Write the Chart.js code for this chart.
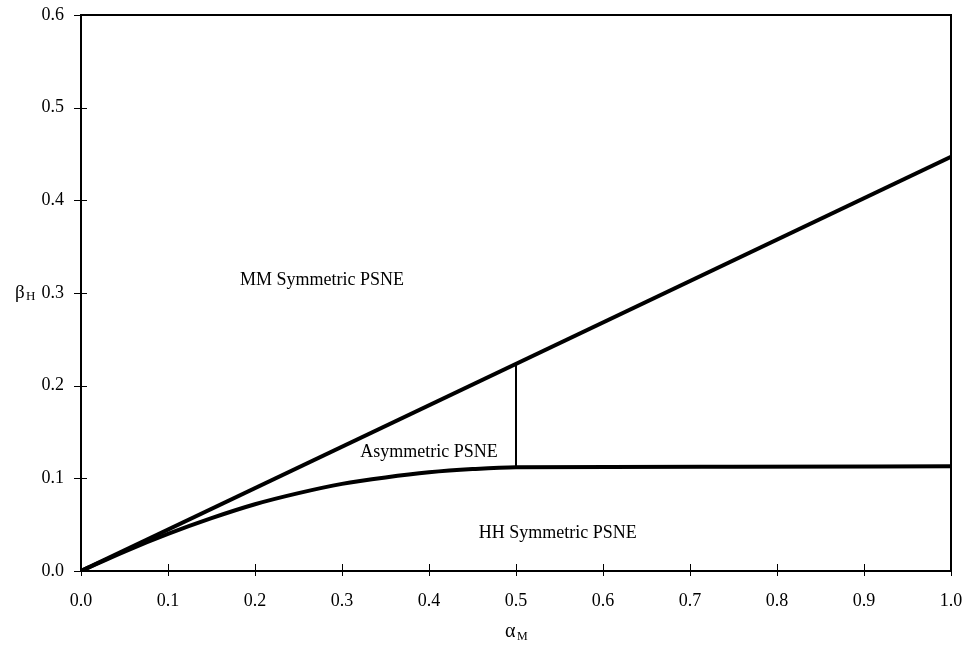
<!DOCTYPE html>
<html>
<head>
<meta charset="utf-8">
<script src="https://cdn.jsdelivr.net/npm/chart.js@4"></script>
<style>
  html, body { margin: 0; padding: 0; background: #fff; }
  #wrap { width: 968px; height: 650px; }
</style>
</head>
<body>
<div id="wrap"><canvas id="chart" width="968" height="650"></canvas></div>
<script>
// data
var xTicks = [0, 0.1, 0.2, 0.3, 0.4, 0.5, 0.6, 0.7, 0.8, 0.9, 1.0];
var yTicks = [0, 0.1, 0.2, 0.3, 0.4, 0.5, 0.6];

// upper boundary (straight line)
var upperAlpha = [0, 1.0];
var upperBeta  = [0, 0.447];

// lower boundary (curve, then flat)
var lowerAlpha = [0, 0.05, 0.1, 0.15, 0.2, 0.25, 0.3, 0.35, 0.4, 0.45, 0.5, 0.75, 1.0];
var lowerBeta  = [0, 0.021, 0.040, 0.057, 0.072, 0.084, 0.094, 0.101, 0.1065, 0.110, 0.112, 0.1125, 0.113];

// vertical split at alpha = 0.5
var splitAlpha = [0.5, 0.5];
var splitBeta  = [0.112, 0.2235];

var regionNames = ['MM Symmetric PSNE', 'Asymmetric PSNE', 'HH Symmetric PSNE'];
var regionAlpha = [0.277, 0.40, 0.548];
var regionBeta  = [0.314, 0.128, 0.041];

var FONT = '"Liberation Serif", "Times New Roman", serif';

function pts(xs, ys) {
  return xs.map(function(x, i) { return { x: x, y: ys[i] }; });
}

// frame, tick marks crossing the axes, region labels, axis titles
var decor = {
  id: 'decor',
  afterDraw: function(chart) {
    var ctx = chart.ctx, a = chart.chartArea;
    var sx = chart.scales.x, sy = chart.scales.y;
    ctx.save();
    ctx.strokeStyle = '#000';
    ctx.lineWidth = 2;
    ctx.strokeRect(a.left, a.top, a.right - a.left, a.bottom - a.top);

    ctx.lineWidth = 1;
    ctx.beginPath();
    xTicks.forEach(function(v) {
      var px = Math.round(sx.getPixelForValue(v)) + 0.5;
      ctx.moveTo(px, a.bottom - 7);
      ctx.lineTo(px, a.bottom + 5);
    });
    yTicks.forEach(function(v) {
      var py = Math.round(sy.getPixelForValue(v)) + 0.5;
      ctx.moveTo(a.left - 7, py);
      ctx.lineTo(a.left + 6, py);
    });
    ctx.stroke();

    ctx.fillStyle = '#000';
    ctx.font = '18px ' + FONT;
    ctx.textAlign = 'center';
    ctx.textBaseline = 'middle';
    regionNames.forEach(function(t, i) {
      ctx.fillText(t, sx.getPixelForValue(regionAlpha[i]), sy.getPixelForValue(regionBeta[i]));
    });

    // beta_H next to 0.3
    var yMid = sy.getPixelForValue(0.3);
    ctx.textAlign = 'left';
    ctx.font = '19px ' + FONT;
    ctx.fillText('\u03B2', 15, yMid);
    ctx.font = '13px ' + FONT;
    ctx.fillText('H', 26, yMid + 4);

    // alpha_M under axis
    var xMid = sx.getPixelForValue(0.5) - 11;
    ctx.font = '20px ' + FONT;
    ctx.fillText('\u03B1', xMid, 632);
    ctx.font = '12px ' + FONT;
    ctx.fillText('M', xMid + 12, 637);
    ctx.restore();
  }
};

var lineStyle = { borderColor: '#000', pointRadius: 0, fill: false };

new Chart(document.getElementById('chart'), {
  type: 'scatter',
  data: {
    datasets: [
      Object.assign({ data: pts(upperAlpha, upperBeta), showLine: true, borderWidth: 4, tension: 0 }, lineStyle),
      Object.assign({ data: pts(lowerAlpha, lowerBeta), showLine: true, borderWidth: 4, cubicInterpolationMode: 'monotone' }, lineStyle),
      Object.assign({ data: pts(splitAlpha, splitBeta), showLine: true, borderWidth: 2, tension: 0 }, lineStyle),
    ],
  },
  options: {
    responsive: false,
    animation: false,
    layout: { padding: { top: 15, right: 17, left: 0, bottom: 0 } },
    plugins: { legend: { display: false }, tooltip: { enabled: false } },
    scales: {
      x: {
        type: 'linear', min: 0, max: 1.0,
        afterBuildTicks: function(s) { s.ticks = xTicks.map(function(v) { return { value: v }; }); },
        afterFit: function(s) { s.height = 79; s.paddingLeft = 0; s.paddingRight = 0; },
        grid: { display: false, drawTicks: false },
        border: { display: false },
        ticks: {
          padding: 19, color: '#000', font: { family: FONT, size: 18 }, maxRotation: 0,
          callback: function(v) { return v.toFixed(1); },
        },
      },
      y: {
        type: 'linear', min: 0, max: 0.6,
        afterBuildTicks: function(s) { s.ticks = yTicks.map(function(v) { return { value: v }; }); },
        afterFit: function(s) { s.width = 81; s.paddingTop = 0; s.paddingBottom = 0; },
        grid: { display: false, drawTicks: false },
        border: { display: false },
        ticks: {
          padding: 17, color: '#000', font: { family: FONT, size: 18 },
          callback: function(v) { return v.toFixed(1); },
        },
      },
    },
  },
  plugins: [decor],
});
</script>
</body>
</html>
